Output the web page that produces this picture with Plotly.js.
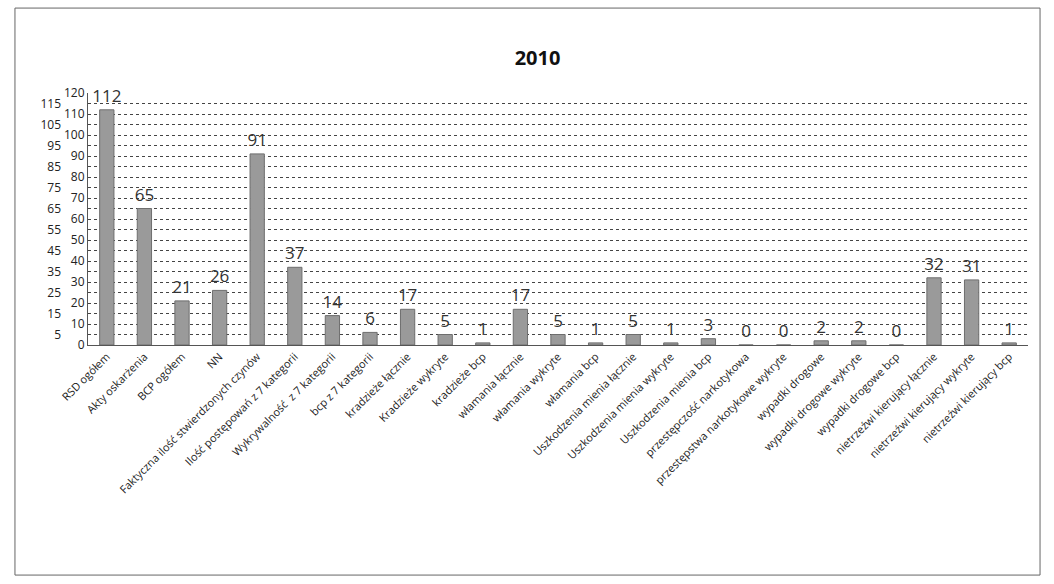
<!DOCTYPE html>
<html>
<head>
<meta charset="utf-8">
<script src="https://cdn.plot.ly/plotly-3.0.1.min.js"></script>
<style>html,body{margin:0;padding:0;background:#fff;}#chart{width:1054px;height:584px;}</style>
</head>
<body>
<div id="chart"></div>
<script>
const categories = [
  "RSD ogółem",
  "Akty oskarżenia",
  "BCP ogółem",
  "NN",
  "Faktyczna ilość stwierdzonych czynów",
  "Ilość postępowań z 7 kategorii",
  "Wykrywalność  z 7 kategorii",
  "bcp z 7 kategorii",
  "kradzieże łącznie",
  "Kradzieże wykryte",
  "kradzieże bcp",
  "włamania łącznie",
  "włamania wykryte",
  "włamania bcp",
  "Uszkodzenia mienia łącznie",
  "Uszkodzenia mienia wykryte",
  "Uszkodzenia mienia bcp",
  "przestępczość narkotykowa",
  "przestępstwa narkotykowe wykryte",
  "wypadki drogowe",
  "wypadki drogowe wykryte",
  "wypadki drogowe bcp",
  "nietrzeźwi kierujący łącznie",
  "nietrzeźwi kierujący wykryte",
  "nietrzeźwi kierujący bcp"
];
const values2010 = [112, 65, 21, 26, 91, 37, 14, 6, 17, 5, 1, 17, 5, 1, 5, 1, 3, 0, 0, 2, 2, 0, 32, 31, 1];
const yTicksTens = [0,10,20,30,40,50,60,70,80,90,100,110,120];
const yTicksFives = [5,15,25,35,45,55,65,75,85,95,105,115];
const yGrid = [0,5,10,15,20,25,30,35,40,45,50,55,60,65,70,75,80,85,90,95,100,105,110,115,120];

const fontFam = '"Open Sans", "Liberation Sans", sans-serif';

const trace = {
  type: 'bar',
  x: categories,
  y: values2010,
  marker: {color: '#9a9a9a', line: {color: '#6e6e6e', width: 1}},
  text: values2010.map(String),
  textposition: 'outside',
  constraintext: 'none',
  cliponaxis: false,
  textfont: {family: fontFam, size: 17, color: '#333'},
  hoverinfo: 'x+y'
};

const helper = {
  type: 'scatter',
  x: categories,
  y: values2010,
  yaxis: 'y2',
  mode: 'markers',
  marker: {opacity: 0, size: 1},
  hoverinfo: 'skip',
  showlegend: false
};

const layout = {
  width: 1054,
  height: 584,
  margin: {l: 88, r: 26, t: 93, b: 239},
  paper_bgcolor: '#fff',
  plot_bgcolor: '#fff',
  title: {text: '<b>2010</b>', x: 0.51, xanchor: 'center', y: 0.9, yanchor: 'middle',
          font: {family: fontFam, size: 20, color: '#111'}},
  bargap: 0.62,
  showlegend: false,
  xaxis: {
    type: 'category',
    range: [-0.5, categories.length - 0.5],
    tickangle: -45,
    automargin: false,
    tickfont: {family: fontFam, size: 11, color: '#222'},
    showline: true, linecolor: '#555', linewidth: 1,
    ticks: '', showgrid: false
  },
  yaxis: {
    range: [0, 120],
    automargin: false,
    tickmode: 'array',
    tickvals: yTicksTens,
    ticktext: yTicksTens.map(String),
    tickfont: {family: fontFam, size: 12, color: '#222'},
    showgrid: false,
    showline: true, linecolor: '#555', linewidth: 1,
    zeroline: false, ticks: ''
  },
  yaxis2: {
    overlaying: 'y',
    side: 'left',
    anchor: 'x',
    automargin: false,
    range: [0, 120],
    tickmode: 'array',
    tickvals: yGrid,
    ticktext: yGrid.map(v => yTicksFives.includes(v) ? String(v) : ''),
    ticklabelstandoff: 26,
    tickfont: {family: fontFam, size: 12, color: '#222'},
    showgrid: true, gridcolor: '#444', gridwidth: 1, griddash: 'dot',
    showline: false, zeroline: false, ticks: ''
  },
  shapes: [{
    type: 'rect', xref: 'paper', yref: 'paper',
    x0: -0.0777, x1: 1.0128, y0: -0.913, y1: 1.337,
    line: {color: '#666', width: 1}, fillcolor: 'rgba(0,0,0,0)', layer: 'below'
  }]
};

Plotly.newPlot('chart', [trace, helper], layout, {displayModeBar: false, staticPlot: true});
</script>
</body>
</html>
